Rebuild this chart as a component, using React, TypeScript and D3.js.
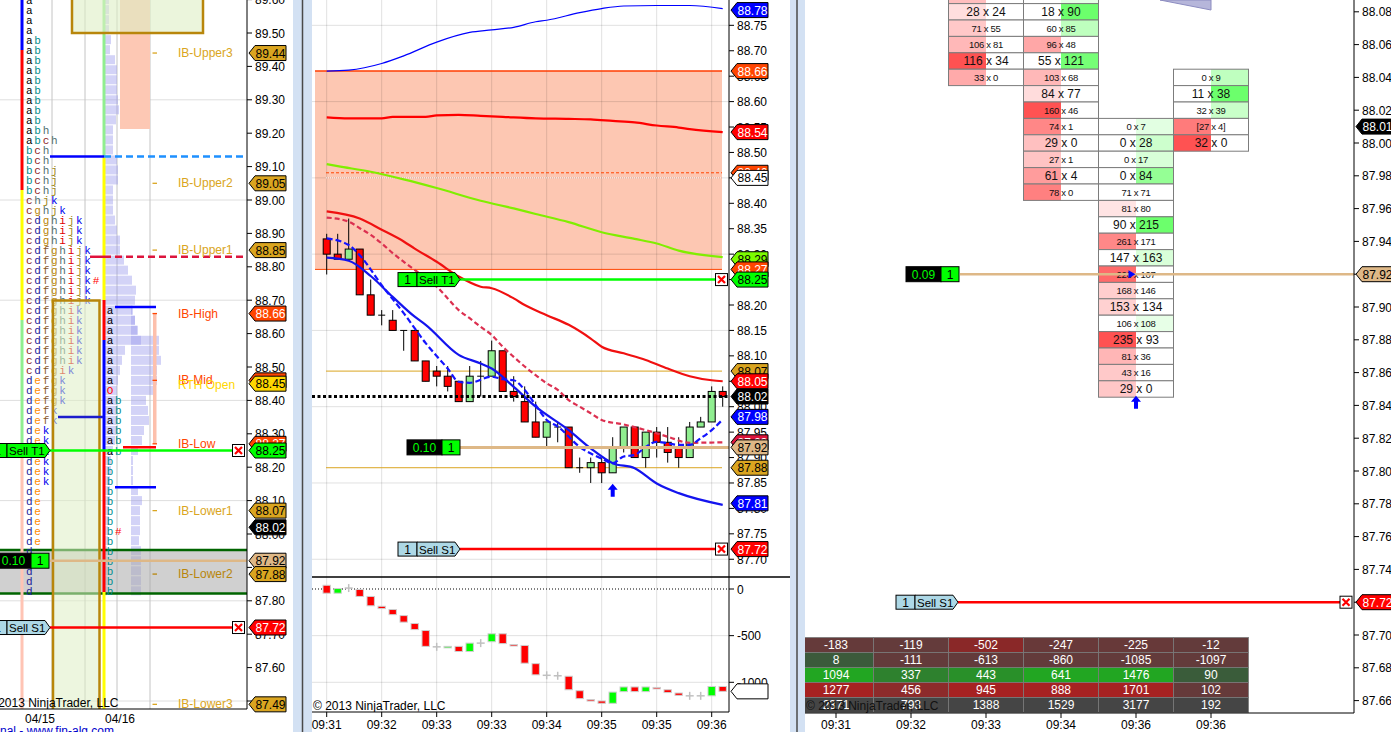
import React from "react";
import * as d3 from "d3";

const FONT = "'Liberation Sans', Arial, Helvetica, sans-serif";
const MONO = "'Liberation Mono', 'DejaVu Sans Mono', monospace";

type Pt = [number, number];
type Row = [number, number, number];

// ---------------- left pane: TPO profile ----------------
const tpoTop = 89.6;
const tpoSize = 0.03;
const tpoPrev = [
  "a", "a", "a", "a",
  "ab", "ab", "ab", "ab", "ab", "ab", "ab", "ab", "ab",
  "abh", "abch", "bch", "bch", "bchj", "bchj", "bchj", "chjk", "cghjk",
  "cdghijk", "cdghijk", "cdghijk",
  "cdfghijk", "cdfghijk", "cdfghijk", "cdfghijk#", "cdfghijk", "cdfghijk",
  "cdfghik", "cdfghik", "cdfghik", "cdfghik", "cdfghik", "cdfghik", "cdfgik",
  "defgk", "defgk", "defgk", "defk", "defk",
  "dek", "dek", "dek", "dek", "dek", "dek",
  "de", "de", "de", "de", "de", "de",
  "d", "d", "d", "d", "d",
];
const tpoTodayRow = 31;
const tpoToday = [
  "a", "a", "a", "a", "a", "a", "a", "a", "O",
  "ab", "ab", "ab", "ab", "ab", "ab",
  "b", "b", "b", "b", "b", "b", "b", "b#", "b", "b", "b", "b", "b", "b",
];
const prevProfile = [
  4, 4, 4, 4, 6, 5, 10, 12, 12, 12, 13, 14, 11, 8, 8, 8, 12, 13, 13, 8,
  8, 8, 10, 12, 15, 15, 19, 23, 27, 31, 30, 27, 30, 33, 36, 20, 17, 15, 13, 12,
  12, 11, 11, 11, 10, 8, 6, 6, 5, 5, 5, 4, 4, 3, 3, 2, 2, 2, 2, 2,
];
const todayProfile = [
  2, 4, 6, 28, 28, 30, 26, 26, 23, 15, 17, 18, 13, 11, 7, 2, 2, 2, 7, 11,
  9, 9, 9, 8, 10, 10, 10, 10, 10,
];
const ibNames = ["IB-Upper3", "IB-Upper2", "IB-Upper1", "IB-High", "IB-Mid", "IB-Low", "IB-Lower1", "IB-Lower2", "IB-Lower3"];
const ibPrices = [89.44, 89.05, 88.85, 88.66, 88.46, 88.27, 88.07, 87.88, 87.49];
const rthOpen = 88.45;
const leftDates = ["04/15", "04/16"];

// ---------------- middle pane: candles ----------------
const barTimes = ["09:31", "09:32", "09:33", "09:33", "09:34", "09:35", "09:35", "09:36"];
const opens = [88.33, 88.30, 88.29, 88.31, 88.22, 88.18, 88.17, 88.15, 88.15, 88.09, 88.07, 88.06, 88.05, 88.01, 88.06, 88.06, 88.11, 88.03, 88.01, 87.97, 87.94, 87.96, 87.96, 87.88, 87.88, 87.89, 87.87, 87.92, 87.96, 87.90, 87.95, 87.93, 87.92, 87.90, 87.96, 87.97, 88.03];
const highs = [88.34, 88.34, 88.37, 88.31, 88.25, 88.19, 88.19, 88.15, 88.15, 88.09, 88.08, 88.08, 88.05, 88.08, 88.09, 88.13, 88.11, 88.06, 88.04, 88.01, 87.97, 87.97, 87.96, 87.90, 87.90, 87.90, 87.94, 87.96, 87.96, 87.95, 87.96, 87.96, 87.94, 87.97, 87.98, 88.04, 88.04];
const lows = [88.26, 88.29, 88.29, 88.22, 88.18, 88.16, 88.15, 88.11, 88.09, 88.05, 88.04, 88.03, 88.01, 88.01, 88.02, 88.06, 88.03, 88.01, 87.97, 87.94, 87.92, 87.93, 87.88, 87.87, 87.85, 87.85, 87.87, 87.91, 87.90, 87.88, 87.90, 87.89, 87.88, 87.90, 87.96, 87.97, 88.00];
const closes = [88.30, 88.29, 88.31, 88.22, 88.18, 88.18, 88.15, 88.15, 88.09, 88.05, 88.06, 88.04, 88.01, 88.06, 88.06, 88.11, 88.03, 88.02, 87.97, 87.94, 87.97, 87.96, 87.88, 87.88, 87.89, 87.87, 87.92, 87.96, 87.90, 87.95, 87.93, 87.91, 87.90, 87.96, 87.97, 88.03, 88.02];

const upperBand: Pt[] = [[0, 88.66], [2, 88.662], [5, 88.675], [7, 88.69], [10, 88.717], [13, 88.736], [15, 88.741], [17, 88.746], [19, 88.757], [20, 88.76], [23, 88.775], [25, 88.783], [27, 88.788], [30, 88.789], [33, 88.789], [36, 88.783]];
const midBand: Pt[] = [[0, 88.569], [2, 88.567], [5, 88.567], [6, 88.57], [9, 88.57], [10, 88.573], [12, 88.574], [14, 88.572], [16, 88.57], [19, 88.567], [22, 88.566], [24, 88.565], [26, 88.562], [28, 88.559], [30, 88.553], [32, 88.549], [33, 88.546], [36, 88.54]];
const greenAvg: Pt[] = [[0, 88.477], [1, 88.473], [4, 88.462], [7, 88.447], [10, 88.43], [14, 88.405], [17, 88.39], [19, 88.379], [22, 88.363], [25, 88.343], [28, 88.33], [30, 88.321], [32, 88.307], [36, 88.294]];
const redAvg: Pt[] = [[0, 88.384], [3, 88.37], [5, 88.348], [7, 88.325], [8, 88.311], [10, 88.285], [12, 88.256], [14, 88.236], [15, 88.233], [17, 88.213], [18, 88.2], [20, 88.18], [22, 88.161], [24, 88.134], [25, 88.118], [27, 88.105], [29, 88.092], [31, 88.075], [33, 88.06], [35, 88.052], [36, 88.05]];
const crimsonAvg: Pt[] = [[0, 88.372], [2, 88.364], [3, 88.351], [4, 88.338], [5, 88.321], [6, 88.302], [7, 88.285], [8, 88.269], [9, 88.252], [10, 88.236], [11, 88.213], [12, 88.19], [13, 88.174], [14, 88.157], [15, 88.141], [16, 88.118], [17, 88.098], [18, 88.079], [19, 88.062], [20, 88.046], [21, 88.033], [22, 88.013], [23, 88.0], [24, 87.987], [25, 87.974], [27, 87.965], [29, 87.954], [31, 87.941], [33, 87.929], [36, 87.93]];
const blueAvg: Pt[] = [[0, 88.293], [2, 88.287], [4, 88.257], [6, 88.216], [8, 88.177], [9, 88.161], [12, 88.102], [14, 88.085], [15, 88.075], [17, 88.039], [19, 88.0], [22, 87.954], [24, 87.918], [26, 87.889], [28, 87.879], [30, 87.849], [32, 87.83], [36, 87.807]];
const blueFast: Pt[] = [[0, 88.331], [2, 88.318], [3, 88.298], [5, 88.239], [7, 88.184], [9, 88.125], [11, 88.075], [12, 88.049], [13, 88.047], [15, 88.059], [16, 88.054], [17, 88.052], [18, 88.033], [19, 88.003], [20, 87.974], [21, 87.961], [23, 87.921], [25, 87.898], [26, 87.889], [27, 87.902], [28, 87.905], [29, 87.921], [30, 87.931], [31, 87.928], [32, 87.925], [33, 87.925], [34, 87.938], [35, 87.954], [36, 87.975]];

const deltaOpen = [40, -45, 10, -5, -80, -185, -220, -285, -370, -445, -620, -625, -615, -670, -580, -565, -480, -595, -605, -800, -925, -930, -935, -1090, -1185, -1200, -1225, -1100, -1050, -1100, -1055, -1080, -1115, -1145, -1145, -1145, -1045];
const deltaClose = [-45, 5, 10, -80, -180, -210, -275, -355, -435, -615, -620, -615, -670, -580, -580, -480, -585, -605, -795, -920, -925, -930, -1080, -1175, -1200, -1225, -1105, -1050, -1100, -1050, -1068, -1110, -1140, -1145, -1145, -1045, -1097];
const deltaTicks = [0, -500, -1000];

// ---------------- right pane: footprint ----------------
const fpTimes = ["09:31", "09:32", "09:33", "09:34", "09:36", "09:36"];
const fp0933: Row[] = [[88.09, 52, 30], [88.08, 28, 24], [88.07, 71, 55], [88.06, 106, 81], [88.05, 116, 34], [88.04, 33, 0]];
const fp0934: Row[] = [[88.09, 44, 47], [88.08, 18, 90], [88.07, 60, 85], [88.06, 96, 48], [88.05, 55, 121], [88.04, 103, 68], [88.03, 84, 77], [88.02, 160, 46], [88.01, 74, 1], [88.0, 29, 0], [87.99, 27, 1], [87.98, 61, 4], [87.97, 78, 0]];
const fp0936a: Row[] = [[88.01, 0, 7], [88.0, 0, 28], [87.99, 0, 17], [87.98, 0, 84], [87.97, 71, 71], [87.96, 81, 80], [87.95, 90, 215], [87.94, 261, 171], [87.93, 147, 163], [87.92, 226, 107], [87.91, 168, 146], [87.9, 153, 134], [87.89, 106, 108], [87.88, 235, 93], [87.87, 81, 36], [87.86, 43, 16], [87.85, 29, 0]];
const fp0936b: Row[] = [[88.04, 0, 9], [88.03, 11, 38], [88.02, 32, 39], [88.01, 27, 4], [88.0, 32, 0]];
const lastPrice = 88.01;
const tblDelta = [-183, -119, -502, -247, -225, -12];
const tblCumDelta = [8, -111, -613, -860, -1085, -1097];
const tblBuy = [1094, 337, 443, 641, 1476, 90];
const tblSell = [1277, 456, 945, 888, 1701, 102];
const tblTotal = [2371, 793, 1388, 1529, 3177, 192];

const letterColor: Record<string, string> = {
  a: "#000000", b: "#008b8b", c: "#8b1c1c", d: "#1c1c9c", e: "#ff8c00", f: "#8b5a2b",
  g: "#b8860b", h: "#4f6f6f", i: "#e00000", j: "#a08a20", k: "#0000ee", O: "#ff0000", "#": "#ff0000",
};

const Tag = ({ x, y, text, fill, color = "#000" }: any) => {
  const h = 15, w = 37, a = 6;
  return (
    <g>
      <polygon
        points={`${x},${y} ${x + a},${y - h / 2} ${x + w},${y - h / 2} ${x + w},${y + h / 2} ${x + a},${y + h / 2}`}
        fill={fill}
        stroke="#000"
      />
      <text x={x + a + 0.5} y={y + 4.5} fontSize={12} fill={color}>{text}</text>
    </g>
  );
};

const OrderTag = ({ x, y, label, fill }: any) => {
  const h = 14, q = 19, l = 38, a = 5;
  return (
    <g>
      <rect x={x} y={y - h / 2} width={q} height={h} fill={fill} stroke="#000" />
      <polygon
        points={`${x + q},${y - h / 2} ${x + q + l},${y - h / 2} ${x + q + l + a},${y} ${x + q + l},${y + h / 2} ${x + q},${y + h / 2}`}
        fill={fill}
        stroke="#000"
      />
      <text x={x + q / 2} y={y + 4.5} textAnchor="middle" fontSize={12}>1</text>
      <text x={x + q + 2} y={y + 4.5} fontSize={11.5}>{label}</text>
    </g>
  );
};

const XBox = ({ x, y }: any) => (
  <g>
    <rect x={x} y={y - 6} width={12} height={12} fill="#fff" stroke="#000" />
    <path d={`M${x + 2.5},${y - 3.5}L${x + 9.5},${y + 3.5}M${x + 9.5},${y - 3.5}L${x + 2.5},${y + 3.5}`} stroke="#ff0000" strokeWidth={2.2} />
  </g>
);

const QtyBox = ({ x, y, value }: any) => (
  <g>
    <rect x={x} y={y - 7.5} width={35} height={15} fill="#000" stroke="#000" />
    <rect x={x + 35} y={y - 7.5} width={18} height={15} fill="#00ff00" stroke="#000" />
    <text x={x + 17.5} y={y + 4.5} textAnchor="middle" fill="#00ff00" fontSize={12}>{value}</text>
    <text x={x + 44} y={y + 4.5} textAnchor="middle" fontSize={12}>1</text>
  </g>
);

const UpArrow = ({ x, y }: any) => (
  <path d={`M${x},${y} L${x + 5},${y + 6} L${x + 2},${y + 6} L${x + 2},${y + 13} L${x - 2},${y + 13} L${x - 2},${y + 6} L${x - 5},${y + 6} Z`} fill="#0000ff" />
);

export default function App() {
  // scales
  const yL = d3.scaleLinear().domain([89.5, 87.6]).range([33, 667.6]);
  const yM = d3.scaleLinear().domain([88.4, 88.0]).range([203.3, 406.7]);
  const xM = d3.scaleLinear().domain([0, 36]).range([326.7, 722.7]);
  const yD = d3.scaleLinear().domain([0, -1000]).range([589, 682.3]);
  const yR = d3.scaleLinear().domain([88.0, 87.72]).range([143, 602.2]);
  const xR = d3.scaleBand<number>().domain(d3.range(6)).range([798.5, 1248.5]);
  const wProf = d3.scaleLinear().domain([0, 10]).range([0, 10]);

  const leftTicks = d3.range(22).map((i) => +(89.6 - 0.1 * i).toFixed(2));
  const midTicks = d3.range(22).map((i) => +(88.75 - 0.05 * i).toFixed(2));
  const midGrid = d3.range(8).map((i) => +(88.75 - 0.15 * i).toFixed(2));
  const rightTicks = d3.range(22).map((i) => +(88.08 - 0.02 * i).toFixed(2));
  const leftGrid = d3.range(7).map((i) => +(89.3 - 0.3 * i).toFixed(2));

  const lineM = d3.line<Pt>().x((d) => xM(d[0])).y((d) => yM(d[1])).curve(d3.curveMonotoneX);
  const tpoY = (r: number) => yL(tpoTop - tpoSize * r);

  const redCell = d3.interpolateRgb("#ffffff", "#ff5252");
  const greenCell = d3.interpolateRgb("#ffffff", "#6cff6c");
  const fpCols: [number, Row[]][] = [[2, fp0933], [3, fp0934], [4, fp0936a], [5, fp0936b]];
  const rowH = yR(87.99) - yR(88.0);
  const bw = xR.bandwidth();

  const clamp01 = (t: number) => Math.max(0, Math.min(1, t));
  const tblRows = [tblDelta, tblCumDelta, tblBuy, tblSell, tblTotal];
  const tblColor = (r: number, v: number) => {
    const row = tblRows[r];
    const mx = d3.max(row, (d) => Math.abs(d))!;
    if (r === 0) return v < 0 ? d3.interpolateRgb("#633b3b", "#8a2828")(Math.pow(-v / mx, 3)) : "#3b5a3b";
    if (r === 1) return v < 0 ? "#633b3b" : "#3b5a3b";
    if (r === 2) return d3.interpolateRgb("#3b5a3b", "#22a622")(clamp01((v / mx - 0.05) / 0.35));
    if (r === 3) return d3.interpolateRgb("#633b3b", "#a62222")(clamp01((v / mx - 0.05) / 0.35));
    return "#454545";
  };

  const ibColor = (n: string) =>
    n === "IB-High" || n === "IB-Mid" || n === "IB-Low" ? "#ff4500" : n === "IB-Lower2" ? "#b8860b" : "#daa520";

  const midBottom = 577;

  return (
    <svg width={1391} height={732} style={{ position: "fixed", left: 0, top: 0 }} fontFamily={FONT}>
      <defs>
        <clipPath id="cL"><rect x={0} y={0} width={247} height={709} /></clipPath>
        <clipPath id="cM"><rect x={312} y={0} width={417} height={midBottom} /></clipPath>
        <clipPath id="cD"><rect x={312} y={midBottom} width={417} height={135} /></clipPath>
        <clipPath id="cR"><rect x={805} y={0} width={549} height={713} /></clipPath>
      </defs>
      <rect width={1391} height={732} fill="#fff" />

      {/* ================= LEFT PANE ================= */}
      <g clipPath="url(#cL)">
        {leftGrid.map((p) => (
          <line key={`lg${p}`} x1={0} x2={247} y1={yL(p)} y2={yL(p)} stroke="#dedede" />
        ))}
        {[52, 85, 117, 150].map((x) => (
          <line key={`lv${x}`} x1={x} x2={x} y1={0} y2={709} stroke="#c4c4c4" />
        ))}
        <rect x={120} y={0} width={30} height={129} fill="#fdc8b4" />
        {/* profiles */}
        {prevProfile.map((v, r) => (
          <rect key={`pp${r}`} x={105} y={tpoY(r) - 4.5} width={wProf(v)} height={9} fill="rgba(150,150,235,0.42)" />
        ))}
        {todayProfile.map((v, i) => (
          <rect key={`tp${i}`} x={131} y={tpoY(tpoTodayRow + i) - 4.5} width={wProf(v)} height={9} fill="rgba(150,150,235,0.42)" />
        ))}
        {/* overnight band */}
        <rect x={0} y={yL(87.952)} width={247} height={yL(87.822) - yL(87.952)} fill="rgba(170,170,170,0.55)" />
        <line x1={0} x2={247} y1={yL(87.952)} y2={yL(87.952)} stroke="#006400" strokeWidth={2.5} />
        <line x1={0} x2={247} y1={yL(87.822)} y2={yL(87.822)} stroke="#006400" strokeWidth={2.5} />
        {/* period range bars */}
        {[
          [0, 50, "#0000ff"], [50, 190, "#ff0000"], [190, 320, "#ffff00"], [320, 448, "#90ee90"], [448, 709, "#ffc4b4"],
        ].map(([a, b, c]: any) => (
          <line key={`rb1${a}`} x1={22} x2={22} y1={a} y2={b} stroke={c} strokeWidth={3} />
        ))}
        {[
          [0, 157, "#90ee90"], [157, 300, "#ffff00"], [300, 340, "#ff0000"], [340, 450, "#0000ff"], [450, 592, "#ff0000"], [592, 709, "#ffff00"],
        ].map(([a, b, c]: any) => (
          <line key={`rb2${a}`} x1={104} x2={104} y1={a} y2={b} stroke={c} strokeWidth={3} />
        ))}
        {/* TPO letters */}
        {tpoPrev.map((s, r) =>
          s.split("").map((ch, j) => (
            <text key={`tl${r}-${j}`} x={29.3 + 8.33 * j} y={tpoY(r) + 4} textAnchor="middle" fontSize={11} fontFamily={MONO} fill={letterColor[ch]}>
              {ch}
            </text>
          ))
        )}
        {tpoToday.map((s, i) =>
          s.split("").map((ch, j) => (
            <text key={`tt${i}-${j}`} x={110 + 8.33 * j} y={tpoY(tpoTodayRow + i) + 4} textAnchor="middle" fontSize={11} fontFamily={MONO} fill={letterColor[ch]}>
              {ch}
            </text>
          ))
        )}
        {/* value boxes */}
        <rect x={72} y={-5} width={131} height={38} fill="rgba(222,238,196,0.6)" stroke="#b8860b" strokeWidth={2.5} />
        <rect x={53} y={300.5} width={46.5} height={420} fill="rgba(222,238,196,0.55)" stroke="#b8860b" strokeWidth={2.5} />
        {/* reference lines */}
        <line x1={50} x2={104} y1={yL(89.13)} y2={yL(89.13)} stroke="#0000ff" strokeWidth={2.5} />
        <line x1={104} x2={247} y1={yL(89.13)} y2={yL(89.13)} stroke="#1e90ff" strokeWidth={2.5} strokeDasharray="7,4" />
        <line x1={90} x2={104} y1={yL(88.83)} y2={yL(88.83)} stroke="#e0103c" strokeWidth={2.5} />
        <line x1={104} x2={247} y1={yL(88.83)} y2={yL(88.83)} stroke="#dc143c" strokeWidth={2.5} strokeDasharray="7,4" />
        <line x1={115} x2={156} y1={yL(88.68)} y2={yL(88.68)} stroke="#0000ff" strokeWidth={2.5} />
        <line x1={58} x2={103} y1={yL(88.35)} y2={yL(88.35)} stroke="#1c1ccc" strokeWidth={2.5} />
        <line x1={123} x2={156} y1={yL(88.26)} y2={yL(88.26)} stroke="#ff0000" strokeWidth={2.5} />
        <line x1={115} x2={156} y1={yL(88.14)} y2={yL(88.14)} stroke="#0000ff" strokeWidth={2.5} />
        {/* IB strip and labels */}
        <rect x={153} y={yL(88.66)} width={3.5} height={yL(88.27) - yL(88.66)} fill="#fdc0ac" />
        {ibNames.map((n, i) => (
          <g key={`ib${n}`}>
            <line x1={152.5} x2={157} y1={yL(ibPrices[i])} y2={yL(ibPrices[i])} stroke={ibColor(n)} strokeWidth={1.3} />
            <text x={178} y={yL(ibPrices[i]) + 4} fontSize={12} fill={ibColor(n)}>{n}</text>
          </g>
        ))}
        <text x={178} y={yL(rthOpen) + 5} fontSize={12} fill="#ffd700">RTH Open</text>
        {/* trades */}
        <line x1={50} x2={232} y1={yL(88.25)} y2={yL(88.25)} stroke="#00ff00" strokeWidth={2.5} />
        <line x1={50} x2={232} y1={yL(87.72)} y2={yL(87.72)} stroke="#ff0000" strokeWidth={2.5} />
        <line x1={50} x2={247} y1={yL(87.92)} y2={yL(87.92)} stroke="#deb887" strokeWidth={2.5} />
        <OrderTag x={-12} y={yL(88.25)} label="Sell T1" fill="#00ff00" />
        <OrderTag x={-12} y={yL(87.72)} label="Sell S1" fill="#add8e6" />
        <XBox x={232.5} y={yL(88.25)} />
        <XBox x={232.5} y={yL(87.72)} />
        <QtyBox x={-4} y={yL(87.92)} value="0.10" />
        <text x={-14} y={707} fontSize={12} fill="#000">© 2013 NinjaTrader, LLC</text>
      </g>
      <line x1={247} x2={247} y1={0} y2={709} stroke="#000" />
      <line x1={0} x2={247} y1={709} y2={709} stroke="#000" />
      {leftTicks.map((p) => (
        <g key={`lt${p}`}>
          <line x1={247} x2={252} y1={yL(p)} y2={yL(p)} stroke="#000" />
          <text x={255} y={yL(p) + 4.5} fontSize={12}>{p.toFixed(2)}</text>
        </g>
      ))}
      {[
        [89.44, "#daa520", "#000"], [89.05, "#daa520", "#000"], [88.85, "#daa520", "#000"], [88.66, "#ff4500", "#fff"],
        [88.46, "#ff4500", "#fff"], [88.45, "#ffd700", "#000"], [88.27, "#ff4500", "#fff"], [88.25, "#00ff00", "#000"],
        [88.07, "#daa520", "#000"], [88.02, "#000", "#fff"], [87.92, "#deb887", "#000"], [87.88, "#daa520", "#000"],
        [87.72, "#ff0000", "#fff"], [87.49, "#daa520", "#000"],
      ].map(([p, f, c]: any) => (
        <Tag key={`ltag${p}`} x={249} y={yL(p)} text={p.toFixed(2)} fill={f} color={c} />
      ))}
      {leftDates.map((d, i) => (
        <text key={d} x={[40, 120][i]} y={723} textAnchor="middle" fontSize={12}>{d}</text>
      ))}
      <text x={0} y={735} fontSize={12} fill="#0000cc">nal - www.fin-alg.com</text>

      {/* window frame 1 */}
      <rect x={293} y={0} width={19} height={732} fill="#d3e1f3" />
      <line x1={302.5} x2={302.5} y1={0} y2={732} stroke="#4a4a4a" strokeWidth={1.5} />

      {/* ================= MIDDLE PANE ================= */}
      <g clipPath="url(#cM)">
        <rect x={315} y={yM(88.66)} width={407} height={yM(88.27) - yM(88.66)} fill="#fdc7b2" />
        {midGrid.map((p) => (
          <line key={`mg${p}`} x1={312} x2={729} y1={yM(p)} y2={yM(p)} stroke="rgba(0,0,0,0.12)" />
        ))}
        {d3.range(0, 37, 5).map((i) => (
          <line key={`mv${i}`} x1={xM(i)} x2={xM(i)} y1={0} y2={midBottom} stroke="rgba(0,0,0,0.12)" />
        ))}
        <line x1={315} x2={722} y1={yM(88.66)} y2={yM(88.66)} stroke="#ff3c00" strokeWidth={1.5} />
        <line x1={315} x2={722} y1={yM(88.27)} y2={yM(88.27)} stroke="#ff4500" />
        <line x1={326} x2={722} y1={yM(88.46)} y2={yM(88.46)} stroke="#ff4500" strokeDasharray="3,2" />
        <line x1={326} x2={722} y1={yM(88.45)} y2={yM(88.45)} stroke="#fff" strokeDasharray="1,1" />
        <line x1={326} x2={722} y1={yM(88.07)} y2={yM(88.07)} stroke="#daa520" />
        <line x1={326} x2={722} y1={yM(87.88)} y2={yM(87.88)} stroke="#daa520" />
        {/* candles */}
        {opens.map((o, i) => {
          const c = closes[i];
          const x = xM(i);
          const top = yM(Math.max(o, c));
          const bot = yM(Math.min(o, c));
          return (
            <g key={`c${i}`}>
              <line x1={x} x2={x} y1={yM(highs[i])} y2={yM(lows[i])} stroke="#000" />
              {o === c ? (
                <line x1={x - 3.5} x2={x + 3.5} y1={top} y2={top} stroke="#000" />
              ) : (
                <rect x={x - 3.5} y={top} width={7} height={bot - top} fill={c > o ? "#90ee90" : "#ff0000"} stroke="#000" />
              )}
            </g>
          );
        })}
        {/* averages */}
        <path d={lineM(upperBand)!} fill="none" stroke="#0000ff" strokeWidth={1.2} />
        <path d={lineM(midBand)!} fill="none" stroke="#ff0000" strokeWidth={2.2} />
        <path d={lineM(greenAvg)!} fill="none" stroke="#80ee00" strokeWidth={2.2} />
        <path d={lineM(redAvg)!} fill="none" stroke="#f01010" strokeWidth={2.2} />
        <path d={lineM(crimsonAvg)!} fill="none" stroke="#dc3050" strokeWidth={2.2} strokeDasharray="5,3" />
        <path d={lineM(blueAvg)!} fill="none" stroke="#1414ee" strokeWidth={2.2} />
        <path d={lineM(blueFast)!} fill="none" stroke="#1414ff" strokeWidth={2.2} strokeDasharray="6,3" />
        <line x1={312} x2={729} y1={yM(88.02)} y2={yM(88.02)} stroke="#000" strokeWidth={3} strokeDasharray="3,2.5" />
        {/* orders */}
        <line x1={460} x2={729} y1={yM(87.92)} y2={yM(87.92)} stroke="#deb887" strokeWidth={3} />
        <line x1={460} x2={716} y1={yM(88.25)} y2={yM(88.25)} stroke="#00ff00" strokeWidth={2.5} />
        <line x1={460} x2={716} y1={yM(87.72)} y2={yM(87.72)} stroke="#ff0000" strokeWidth={2.5} />
        <OrderTag x={398} y={yM(88.25)} label="Sell T1" fill="#00ff00" />
        <OrderTag x={398} y={yM(87.72)} label="Sell S1" fill="#add8e6" />
        <XBox x={715.5} y={yM(88.25)} />
        <XBox x={715.5} y={yM(87.72)} />
        <QtyBox x={407} y={yM(87.92)} value="0.10" />
        <UpArrow x={xM(26)} y={yM(lows[26]) + 11} />
      </g>

      {/* delta panel */}
      <g clipPath="url(#cD)">
        {midGrid.length && deltaTicks.map((v) => (
          <line key={`dg${v}`} x1={312} x2={729} y1={yD(v)} y2={yD(v)} stroke={v === 0 ? "#000" : "rgba(0,0,0,0.12)"} strokeDasharray={v === 0 ? "1,2" : undefined} />
        ))}
        {d3.range(0, 37, 5).map((i) => (
          <line key={`dv${i}`} x1={xM(i)} x2={xM(i)} y1={midBottom} y2={712} stroke="rgba(0,0,0,0.12)" />
        ))}
        {deltaOpen.map((o, i) => {
          const c = deltaClose[i];
          const x = xM(i);
          if (o === c)
            return (
              <g key={`d${i}`} stroke="#c0c0c0" strokeWidth={1.5}>
                <line x1={x - 4} x2={x + 4} y1={yD(o)} y2={yD(o)} />
                <line x1={x} x2={x} y1={yD(o) - 4} y2={yD(o) + 4} />
              </g>
            );
          const top = yD(Math.max(o, c));
          const bot = yD(Math.min(o, c));
          return (
            <rect key={`d${i}`} x={x - 3.7} y={top} width={7.4} height={Math.max(1.5, bot - top)} fill={c > o ? "#00ff00" : "#ff0000"} stroke="#cfcfcf" />
          );
        })}
        <text x={313} y={710} fontSize={12}>© 2013 NinjaTrader, LLC</text>
      </g>
      <line x1={312} x2={790} y1={midBottom} y2={midBottom} stroke="#000" strokeWidth={1.5} />
      <line x1={729} x2={729} y1={0} y2={712} stroke="#000" />
      <line x1={312} x2={729} y1={712} y2={712} stroke="#000" />
      {midTicks.map((p) => (
        <g key={`mt${p}`}>
          <line x1={729} x2={734} y1={yM(p)} y2={yM(p)} stroke="#000" />
          <text x={737} y={yM(p) + 4.5} fontSize={12}>{p.toFixed(2)}</text>
        </g>
      ))}
      {deltaTicks.map((v) => (
        <g key={`dt${v}`}>
          <line x1={729} x2={734} y1={yD(v)} y2={yD(v)} stroke="#000" />
          <text x={737} y={yD(v) + 4.5} fontSize={12}>{v}</text>
        </g>
      ))}
      {[
        [88.78, "#0000ff", "#fff"], [88.66, "#ff4500", "#fff"], [88.54, "#ff0000", "#fff"], [88.46, "#ff4500", "#fff"],
        [88.45, "#ffffff", "#000"], [88.29, "#7cfc00", "#000"], [88.27, "#ff4500", "#fff"], [88.25, "#00ff00", "#000"],
        [88.07, "#daa520", "#000"], [88.05, "#ff0000", "#fff"], [88.02, "#000", "#fff"], [87.98, "#0000ff", "#fff"],
        [87.93, "#dc143c", "#fff"], [87.92, "#deb887", "#000"], [87.88, "#daa520", "#000"], [87.81, "#0000ff", "#fff"],
        [87.72, "#ff0000", "#fff"],
      ].map(([p, f, c]: any) => (
        <Tag key={`mtag${p}`} x={731} y={yM(p)} text={p.toFixed(2)} fill={f} color={c} />
      ))}
      <Tag x={731} y={yD(deltaClose[36])} text="" fill="#fff" />
      {barTimes.map((t, k) => (
        <g key={`bt${k}`}>
          <line x1={xM(k * 5)} x2={xM(k * 5)} y1={712} y2={717} stroke="#000" />
          <text x={xM(k * 5)} y={729} textAnchor="middle" fontSize={12}>{t}</text>
        </g>
      ))}

      {/* window frame 2 */}
      <rect x={790} y={0} width={15} height={732} fill="#d3e1f3" />
      <line x1={797} x2={797} y1={0} y2={732} stroke="#4a4a4a" strokeWidth={1.5} />

      {/* ================= RIGHT PANE ================= */}
      <g clipPath="url(#cR)">
        <polygon points="1160,0 1211,10 1211,0" fill="#b6b6da" stroke="#8c8cc0" />
        {fpCols.map(([bar, rows]) => {
          const maxR = d3.max(rows, (d) => d[1] - d[2]) || 1;
          const maxG = d3.max(rows, (d) => d[2] - d[1]) || 1;
          const x0 = xR(bar)!;
          return (
            <g key={`fp${bar}`}>
              {rows.map(([p, bid, ask]) => {
                const yc = yR(p);
                const diff = bid - ask;
                const cents = Math.round(p * 100) % 5;
                const big = cents === 0 || cents === 3;
                const txt = bar === 5 && p === lastPrice ? `[${bid} x ${ask}]` : `${bid} x ${ask}`;
                return (
                  <g key={`fr${bar}-${p}`}>
                    <rect x={x0} y={yc - rowH / 2} width={bw / 2} height={rowH} fill={diff > 0 ? redCell(0.15 + 0.85 * (diff / maxR)) : "#fff"} />
                    <rect x={x0 + bw / 2} y={yc - rowH / 2} width={bw / 2} height={rowH} fill={diff < 0 ? greenCell(0.15 + 0.85 * (-diff / maxG)) : "#fff"} />
                    <rect x={x0} y={yc - rowH / 2} width={bw} height={rowH} fill="none" stroke="#7c7c7c" />
                    <text x={x0 + bw / 2} y={yc + (big ? 4.3 : 3.3)} textAnchor="middle" fontSize={big ? 12 : 9.5} letterSpacing={big ? 0 : -0.3} fill="#111">
                      {txt}
                    </text>
                  </g>
                );
              })}
            </g>
          );
        })}
        {/* entry line */}
        <line x1={960} x2={1354} y1={yR(87.92)} y2={yR(87.92)} stroke="#deb887" strokeWidth={2.5} />
        <polygon points={`${xR(4)! + 30},${yR(87.92) - 4} ${xR(4)! + 37},${yR(87.92)} ${xR(4)! + 30},${yR(87.92) + 4}`} fill="#0000ff" />
        <QtyBox x={906} y={yR(87.92)} value="0.09" />
        <line x1={958} x2={1340} y1={yR(87.72)} y2={yR(87.72)} stroke="#ff0000" strokeWidth={2.5} />
        <OrderTag x={896} y={yR(87.72)} label="Sell S1" fill="#add8e6" />
        <XBox x={1340} y={yR(87.72)} />
        <UpArrow x={xR(4)! + bw / 2} y={yR(87.85) + rowH / 2 - 1.5} />
        {/* bar statistics table */}
        {tblRows.map((row, r) =>
          row.map((v, j) => (
            <g key={`tb${r}-${j}`}>
              <rect x={xR(j)!} y={637.5 + r * 15} width={bw} height={15} fill={tblColor(r, v)} stroke="#7a7a7a" strokeWidth={0.8} />
              <text x={xR(j)! + bw / 2} y={649.3 + r * 15} textAnchor="middle" fontSize={12} fill="#fff">{v}</text>
            </g>
          ))
        )}
        <text x={806} y={710} fontSize={12} fill="#111">© 2013 NinjaTrader, LLC</text>
      </g>
      <line x1={1354} x2={1354} y1={0} y2={713} stroke="#000" />
      <line x1={805} x2={1354} y1={713} y2={713} stroke="#000" />
      {rightTicks.map((p) => (
        <g key={`rt${p}`}>
          <line x1={1354} x2={1359} y1={yR(p)} y2={yR(p)} stroke="#000" />
          <text x={1362} y={yR(p) + 4.5} fontSize={12}>{p.toFixed(2)}</text>
        </g>
      ))}
      <Tag x={1356} y={yR(lastPrice)} text={lastPrice.toFixed(2)} fill="#000" color="#fff" />
      <Tag x={1356} y={yR(87.92)} text="87.92" fill="#deb887" />
      <Tag x={1356} y={yR(87.72)} text="87.72" fill="#ff0000" color="#fff" />
      {fpTimes.map((t, j) => (
        <g key={`ft${j}`}>
          <line x1={xR(j)! + bw / 2} x2={xR(j)! + bw / 2} y1={713} y2={718} stroke="#000" />
          <text x={xR(j)! + bw / 2} y={729} textAnchor="middle" fontSize={12}>{t}</text>
        </g>
      ))}
    </svg>
  );
}
